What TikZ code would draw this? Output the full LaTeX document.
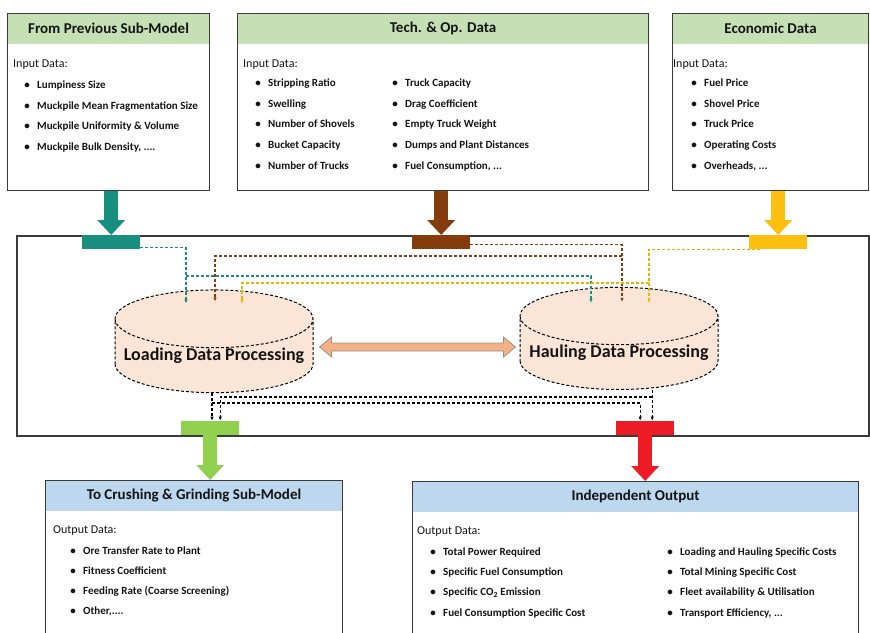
\documentclass[tikz,border=0pt]{standalone}
\usepackage{fontspec}
\setmainfont{Carlito}
\usetikzlibrary{arrows.meta,positioning,calc,backgrounds,shapes.geometric}
\definecolor{ink}{HTML}{141414}
\definecolor{rule}{HTML}{3A3A3A}
\definecolor{hdrgreen}{HTML}{C5E0B4}
\definecolor{hdrblue}{HTML}{BDD7EE}
\definecolor{tealin}{HTML}{17907F}
\definecolor{brownin}{HTML}{843C0C}
\definecolor{yellowin}{HTML}{FDC010}
\definecolor{yellowline}{HTML}{EDB300}
\definecolor{greenout}{HTML}{92D050}
\definecolor{redout}{HTML}{ED1C24}
\definecolor{cylfill}{HTML}{FBE5D6}
\definecolor{peach}{HTML}{F4B183}
\tikzset{
  >=Latex,
  every node/.style={text=ink},
  panel/.style={draw=rule,line width=1.1pt,anchor=north west,inner sep=0pt},
  hdr/.style={fill=#1,anchor=north,minimum height=31pt,inner sep=0pt,font=\fontsize{15}{17}\selectfont\bfseries},
  caption/.style={anchor=base west,inner sep=0pt,font=\fontsize{12}{14}\selectfont},
  item/.style={anchor=base west,inner sep=0pt,font=\fontsize{11}{13}\selectfont\bfseries},
  inbar/.style={fill=#1,anchor=north west,minimum width=58pt,minimum height=14pt,inner sep=0pt},
  fatarrow/.style={draw=#1,line width=14pt,-{Triangle[length=15pt,width=27pt]}},
  flow/.style={draw=#1,line width=1.2pt,dash pattern=on 3pt off 2pt,-{Latex[length=4pt,width=3.5pt]}},
  cyl/.style={cylinder,shape border rotate=90,aspect=0.32,draw=black,line width=1pt,dash pattern=on 3pt off 2pt,fill=cylfill,minimum width=198pt,minimum height=98pt,inner sep=0pt,font=\fontsize{18}{20}\selectfont\bfseries},
  twoway/.style={draw=gray!85,line width=0.8pt,fill=peach,line join=miter},
}
\newcommand{\blt}{\makebox[8pt][c]{\textbullet}\hspace{6pt}}
\newcommand{\ddd}{...}

\begin{document}
\begin{tikzpicture}[x=1pt,y=-1pt]
\path[use as bounding box,clip] (0,0) rectangle (870,632);

% input boxes
\node[panel,minimum width=202pt,minimum height=177pt] (prev) at (7,13) {};
\node[panel,minimum width=411pt,minimum height=177pt] (tech) at (237,13) {};
\node[panel,minimum width=196pt,minimum height=177pt] (econ) at (672,13) {};
\begin{scope}[on background layer]
\node[hdr=hdrgreen,minimum width=202pt] (prev-hd) at (prev.north) {From Previous Sub-Model};
\node[hdr=hdrgreen,minimum width=411pt] (tech-hd) at (tech.north) {Tech. \& Op. Data};
\node[hdr=hdrgreen,minimum width=196pt] (econ-hd) at (econ.north) {Economic Data};
\end{scope}

\node[caption] (prev-cap) at (13,67) {Input Data:};
\node[caption] (tech-cap) at (243,67) {Input Data:};
\node[caption] (econ-cap) at (673,67) {Input Data:};
\foreach \txt [count=\i from 0] in {Lumpiness Size, Muckpile Mean Fragmentation Size, Muckpile Uniformity \& Volume, {Muckpile Bulk Density, \ddd.}}
  \node[item] (prev-\i) at (23,88.5+20.5*\i) {\blt\txt};
\foreach \txt [count=\i from 0] in {Stripping Ratio, Swelling, Number of Shovels, Bucket Capacity, Number of Trucks}
  \node[item] (tech-a\i) at (254,86.5+20.7*\i) {\blt\txt};
\foreach \txt [count=\i from 0] in {Truck Capacity, Drag Coefficient, Empty Truck Weight, Dumps and Plant Distances, {Fuel Consumption, \ddd}}
  \node[item] (tech-b\i) at (391,86.5+20.7*\i) {\blt\txt};
\foreach \txt [count=\i from 0] in {Fuel Price, Shovel Price, Truck Price, Operating Costs, {Overheads, \ddd}}
  \node[item] (econ-\i) at (690,86.5+20.7*\i) {\blt\txt};

% processing frame
\node[panel,line width=1.5pt,minimum width=852pt,minimum height=200pt] (proc) at (16,235) {};
\node[inbar=tealin] (tealbar) at (82,235) {};
\node[inbar=brownin] (brownbar) at (412,235) {};
\node[inbar=yellowin] (yellowbar) at (749,235) {};
\node[inbar=greenout,anchor=south west] (greenbar) at (181,435) {};
\node[inbar=redout,anchor=south west] (redbar) at (616,435) {};

\draw[fatarrow=tealin] (prev.south -| tealbar.north) -- (tealbar.north);
\draw[fatarrow=brownin] (tech.south -| brownbar.north) -- (brownbar.north);
\draw[fatarrow=yellowin] (econ.south -| yellowbar.north) -- (yellowbar.north);

% processing units
\node[cyl] (load) at (214,356) {Loading Data Processing};
\node[cyl] (haul) at (619,353) {Hauling Data Processing};

\coordinate (lt) at ($(load.east)+(6,-9)$);
\coordinate (rt) at ($(haul.west |- lt)+(-4,0)$);
\draw[twoway] (lt) -- ++(12,-10) -- ++(0,6) -- ($(rt)+(-12,-4)$) -- ++(0,-6) -- (rt)
  -- ++(-12,10) -- ++(0,-6) -- ($(lt)+(12,4)$) -- ++(0,6) -- cycle;

% data feeds
\coordinate (load-a) at ($(load.north)+(-28,14)$);
\coordinate (load-b) at ($(load.north)+(1,12)$);
\coordinate (load-c) at ($(load.north)+(28,14)$);
\coordinate (haul-a) at ($(haul.north)+(-28,16)$);
\coordinate (haul-b) at ($(haul.north)+(3,15)$);
\coordinate (haul-c) at ($(haul.north)+(30,16)$);
\draw[flow=tealin] ($(tealbar.east)+(0,5)$) -| (load-a);
\draw[flow=tealin] (load-a |- 0,276) -| (haul-a);
\draw[flow=brownin] ($(brownbar.east)+(0,2)$) -| (haul-b);
\draw[flow=brownin] (haul-b |- 0,256) -| (load-b);
\draw[flow=yellowline] ($(yellowbar.south)+(-18,0)$) -| (haul-c);
\draw[flow=yellowline] (haul-c |- 0,283) -| (load-c);

% results
\coordinate (load-o) at ($(load.south)+(-2,0)$);
\coordinate (green-b) at ($(greenbar.north)+(10,0)$);
\coordinate (red-a) at ($(redbar.north)+(-5,0)$);
\coordinate (red-b) at ($(redbar.north)+(7,0)$);
\draw[flow=black] (load-o) -- (load-o |- greenbar.north);
\draw[flow=black] (load-o |- 0,403) -| (red-a);
\draw[flow=black] (red-b |- haul.south) -- (red-b);
\draw[flow=black] (red-b |- 0,397) -| (green-b);

% output boxes
\node[panel,minimum width=297pt,minimum height=170pt] (crush) at (45,480) {};
\node[panel,minimum width=446pt,minimum height=170pt] (indep) at (412,481) {};
\begin{scope}[on background layer]
\node[hdr=hdrblue,minimum width=297pt] (crush-hd) at (crush.north) {To Crushing \& Grinding Sub-Model};
\node[hdr=hdrblue,minimum width=446pt] (indep-hd) at (indep.north) {Independent Output};
\end{scope}
\draw[fatarrow=greenout] (greenbar.south) -- (greenbar.south |- crush.north);
\draw[fatarrow=redout] (redbar.south) -- (redbar.south |- indep.north);

\node[caption] (crush-cap) at (53,533) {Output Data:};
\node[caption] (indep-cap) at (417,534) {Output Data:};
\foreach \txt [count=\i from 0] in {Ore Transfer Rate to Plant, Fitness Coefficient, Feeding Rate (Coarse Screening), {Other,\ddd.}}
  \node[item] (crush-\i) at (69,554+20.3*\i) {\blt\txt};
\foreach \txt [count=\i from 0] in {Total Power Required, Specific Fuel Consumption, Specific CO\textsubscript{2} Emission, Fuel Consumption Specific Cost}
  \node[item] (indep-a\i) at (429,555+20.4*\i) {\blt\txt};
\foreach \txt [count=\i from 0] in {Loading and Hauling Specific Costs, Total Mining Specific Cost, Fleet availability \& Utilisation, {Transport Efficiency, \ddd}}
  \node[item] (indep-b\i) at (666,555+20.4*\i) {\blt\txt};

\end{tikzpicture}
\end{document}
